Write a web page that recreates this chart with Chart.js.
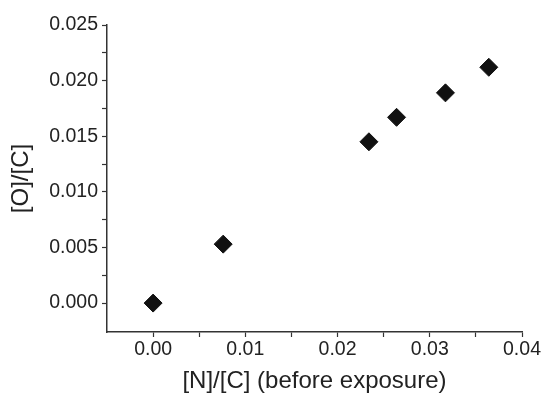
<!DOCTYPE html>
<html>
<head>
<meta charset="utf-8">
<script src="https://cdn.jsdelivr.net/npm/chart.js@4/dist/chart.umd.min.js"></script>
<style>
  body { margin: 0; background: #fff; }
</style>
</head>
<body>
<canvas id="scatterChart" width="544" height="396"></canvas>
<script>
// values
const ratioNC = [0.0000, 0.0076, 0.0234, 0.0264, 0.0317, 0.0364];
const ratioOC = [0.0000, 0.0053, 0.0145, 0.0167, 0.0189, 0.0212];

const xTitle = '[N]/[C] (before exposure)';
const yTitle = '[O]/[C]';

const xMin = -0.005, xMax = 0.04, xStep = 0.005, xMajor = 0.01;
const yMin = -0.0026, yMax = 0.025, yStep = 0.0025, yMajor = 0.005;

const points = ratioNC.map((x, i) => ({ x: x, y: ratioOC[i] }));

function isMultiple(v, step) {
    const q = v / step;
    return Math.abs(q - Math.round(q)) < 1e-6;
}

// drop the tick that Chart.js adds at a non-round axis minimum
function keepRound(step, min) {
    return function(scale) {
        scale.ticks = scale.ticks.filter(t => isMultiple(t.value, step) && t.value > min + 1e-9);
    };
}

document.addEventListener('DOMContentLoaded', function() {
    var ctx = document.getElementById('scatterChart').getContext('2d');
    new Chart(ctx, {
        type: 'scatter',
        data: {
            datasets: [{
                data: points,
                pointStyle: 'rectRot',
                pointRadius: 9,
                pointHoverRadius: 9,
                backgroundColor: '#111',
                borderColor: '#111',
                borderWidth: 1
            }]
        },
        options: {
            responsive: false,
            animation: false,
            layout: { padding: { top: 25, right: 22, left: 0, bottom: 0 } },
            plugins: { legend: { display: false }, tooltip: { enabled: false } },
            scales: {
                x: {
                    type: 'linear',
                    min: xMin,
                    max: xMax,
                    afterBuildTicks: keepRound(xStep, xMin),
                    afterFit: function(scale) { scale.height = 64; },
                    ticks: {
                        stepSize: xStep,
                        autoSkip: false,
                        maxRotation: 0,
                        padding: 1,
                        color: '#222',
                        font: { family: 'Liberation Sans', size: 19.5 },
                        callback: v => isMultiple(v, xMajor) ? v.toFixed(2) : ''
                    },
                    grid: { drawOnChartArea: false, tickLength: 5, tickColor: '#333', tickWidth: 1.2 },
                    border: { color: '#333', width: 1.5 },
                    title: {
                        display: true,
                        text: xTitle,
                        color: '#222',
                        font: { family: 'Liberation Sans', size: 24 },
                        padding: { top: 0, bottom: 0 }
                    }
                },
                y: {
                    type: 'linear',
                    min: yMin,
                    max: yMax,
                    afterBuildTicks: keepRound(yStep, yMin),
                    afterFit: function(scale) { scale.width = 107; },
                    ticks: {
                        stepSize: yStep,
                        autoSkip: false,
                        padding: 4,
                        color: '#222',
                        font: { family: 'Liberation Sans', size: 19.5 },
                        callback: v => isMultiple(v, yMajor) ? v.toFixed(3) : ''
                    },
                    grid: { drawOnChartArea: false, tickLength: 5, tickColor: '#333', tickWidth: 1.2 },
                    border: { color: '#333', width: 1.5 },
                    title: {
                        display: true,
                        text: yTitle,
                        color: '#222',
                        font: { family: 'Liberation Sans', size: 24 },
                        padding: { top: 7, bottom: 0 }
                    }
                }
            }
        }
    });
});
</script>
</body>
</html>
